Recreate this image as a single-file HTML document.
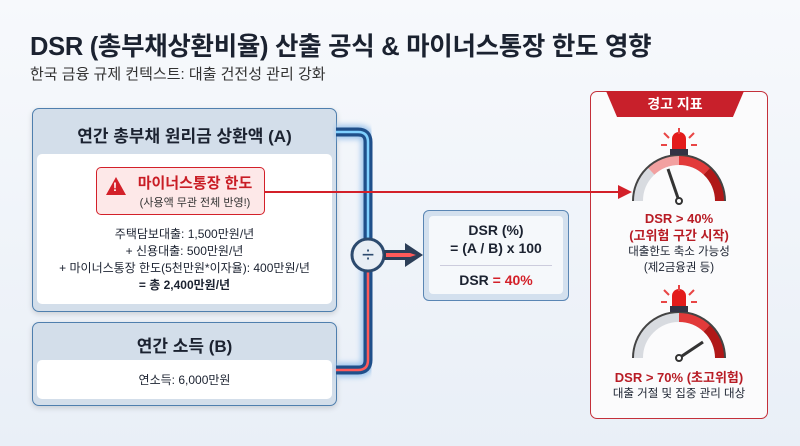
<!DOCTYPE html>
<html><head><meta charset="utf-8"><style>
body{margin:0;width:800px;height:446px;overflow:hidden;background:linear-gradient(180deg,#f7f9fc,#e9eff7);font-family:"Liberation Sans","Noto Sans CJK KR",sans-serif;color:#1b2230;position:relative}
.a{position:absolute}
.c{text-align:center}
</style></head><body>
<div class="a" style="left:30px;top:26px;font-size:25.5px;font-weight:bold;letter-spacing:-0.3px">DSR (총부채상환비율) 산출 공식 &amp; 마이너스통장 한도 영향</div>
<div class="a" style="left:30px;top:63px;font-size:15px;color:#333">한국 금융 규제 컨텍스트: 대출 건전성 관리 강화</div>

<!-- Box A -->
<div class="a" style="left:32px;top:108px;width:303px;height:202px;background:#d3deea;border:1.5px solid #4f7fae;border-radius:7px;box-shadow:0 2px 6px rgba(0,0,0,.15)"></div>
<div class="a c" style="left:32px;top:122px;width:305px;font-size:17px;font-weight:bold">연간 총부채 원리금 상환액 (A)</div>
<div class="a" style="left:37px;top:154px;width:295px;height:150px;background:#fff;border-radius:5px"></div>
<div class="a c" style="left:37px;top:226px;width:295px;font-size:12px;line-height:17px">주택담보대출: 1,500만원/년<br>+ 신용대출: 500만원/년<br>+ 마이너스통장 한도(5천만원*이자율): 400만원/년<br><b>= 총 2,400만원/년</b></div>

<!-- Box B -->
<div class="a" style="left:32px;top:322px;width:303px;height:82px;background:#d3deea;border:1.5px solid #4f7fae;border-radius:7px;box-shadow:0 2px 6px rgba(0,0,0,.15)"></div>
<div class="a c" style="left:32px;top:332px;width:305px;font-size:17px;font-weight:bold">연간 소득 (B)</div>
<div class="a" style="left:37px;top:360px;width:295px;height:39px;background:#fff;border-radius:5px"></div>
<div class="a c" style="left:37px;top:371px;width:295px;font-size:12px">연소득: 6,000만원</div>

<!-- DSR box -->
<div class="a" style="left:423px;top:210px;width:144px;height:89px;background:#d3e0ee;border:1.5px solid #5a86b4;border-radius:6px"></div>
<div class="a" style="left:429px;top:216px;width:134px;height:78px;background:#f5f8fb;border-radius:4px"></div>
<div class="a c" style="left:423px;top:221px;width:146px;font-size:14px;font-weight:bold;line-height:18px">DSR (%)<br>= (A / B) x 100</div>
<div class="a" style="left:440px;top:265px;width:112px;height:1px;background:#ccd"></div>
<div class="a c" style="left:423px;top:272px;width:146px;font-size:14px;font-weight:bold">DSR <span style="color:#d32029">= 40%</span></div>

<!-- warning panel -->
<div class="a" style="left:590px;top:91px;width:176px;height:326px;background:#fbfbfc;border:1.5px solid #c4303a;border-radius:7px"></div>
<div class="a c" style="left:606px;top:91px;width:138px;height:26px;background:#c8202b;clip-path:polygon(0 0,100% 0,92% 100%,8% 100%);color:#fff;font-size:14px;font-weight:bold;line-height:26px">경고 지표</div>
<div class="a c" style="left:590px;top:210px;width:178px;font-size:13px;font-weight:bold;color:#b81c25;line-height:17px">DSR &gt; 40%<br>(고위험 구간 시작)</div>
<div class="a c" style="left:590px;top:244px;width:178px;font-size:11.5px;line-height:16px">대출한도 축소 가능성<br>(제2금융권 등)</div>
<div class="a c" style="left:590px;top:367px;width:178px;font-size:13px;font-weight:bold;color:#b81c25">DSR &gt; 70% (초고위험)</div>
<div class="a c" style="left:590px;top:385px;width:178px;font-size:11.5px">대출 거절 및 집중 관리 대상</div>

<svg class="a" style="left:0;top:0" width="800" height="446">
<defs><filter id="g"><feGaussianBlur stdDeviation="3"/></filter></defs>
<path d="M336 132 H358 Q368 132 368 142 V360 Q368 370 358 370 H336" fill="none" stroke="#9cc4ec" stroke-width="14" filter="url(#g)"/>
<path d="M336 132 H358 Q368 132 368 142 V255" fill="none" stroke="#1f4f8a" stroke-width="9"/>
<path d="M368 255 V360 Q368 370 358 370 H336" fill="none" stroke="#1f4f8a" stroke-width="9"/>
<path d="M336 132 H358 Q368 132 368 142 V255" fill="none" stroke="#7fd0ff" stroke-width="2.5"/>
<path d="M368 255 V360 Q368 370 358 370 H336" fill="none" stroke="#ff5a5a" stroke-width="2.5"/>
<circle cx="368" cy="255" r="16" fill="#e8eef5" stroke="#2c4a6e" stroke-width="3"/>
<text x="368" y="262" font-size="22" text-anchor="middle" fill="#2c4a6e" font-family="Liberation Sans">÷</text>
<path d="M384 250 H405 V243 L423 255 L405 267 V260 H384Z" fill="#2c3e58"/>
<path d="M386 253 H410 L416 255 L410 257 H386Z" fill="#ff5a5a"/>
<line x1="265" y1="192" x2="622" y2="192" stroke="#d32029" stroke-width="2"/>
<path d="M632 192 L618 185 L618 199Z" fill="#d32029"/>
<g transform="translate(679,201)">
<path d="M-41 0 A41 41 0 0 1 41 0" fill="none" stroke="#d8dbe0" stroke-width="10"/>
<path d="M-28 -30 A41 41 0 0 1 0 -41" fill="none" stroke="#f2a0a0" stroke-width="10"/>
<path d="M0 -41 A41 41 0 0 1 28 -30" fill="none" stroke="#e23a3a" stroke-width="10"/>
<path d="M28 -30 A41 41 0 0 1 41 0" fill="none" stroke="#b01818" stroke-width="10"/>
<path d="M-46 0 A46 46 0 0 1 46 0" fill="none" stroke="#444" stroke-width="2"/>
<line x1="0" y1="0" x2="-11" y2="-32" stroke="#333" stroke-width="3"/><circle r="3" fill="#fff" stroke="#333" stroke-width="2"/>
<rect x="-9" y="-52" width="18" height="6" fill="#334"/><path d="M-7 -52 V-62 A7 7 0 0 1 7 -62 V-52Z" fill="#e31b1b"/>
<g stroke="#e84545" stroke-width="2"><line x1="0" y1="-67" x2="0" y2="-73"/><line x1="-10" y1="-63" x2="-15" y2="-68"/><line x1="10" y1="-63" x2="15" y2="-68"/><line x1="-12" y1="-56" x2="-18" y2="-56"/><line x1="12" y1="-56" x2="18" y2="-56"/></g>
</g>
<g transform="translate(679,358)">
<path d="M-41 0 A41 41 0 0 1 41 0" fill="none" stroke="#d8dbe0" stroke-width="10"/>
<path d="M0 -41 A41 41 0 0 1 28 -30" fill="none" stroke="#e23a3a" stroke-width="10"/>
<path d="M28 -30 A41 41 0 0 1 41 0" fill="none" stroke="#b01818" stroke-width="10"/>
<path d="M-46 0 A46 46 0 0 1 46 0" fill="none" stroke="#444" stroke-width="2"/>
<line x1="0" y1="0" x2="24" y2="-16" stroke="#333" stroke-width="3"/><circle r="3" fill="#fff" stroke="#333" stroke-width="2"/>
<rect x="-9" y="-52" width="18" height="6" fill="#334"/><path d="M-7 -52 V-62 A7 7 0 0 1 7 -62 V-52Z" fill="#e31b1b"/>
<g stroke="#e84545" stroke-width="2"><line x1="0" y1="-67" x2="0" y2="-73"/><line x1="-10" y1="-63" x2="-15" y2="-68"/><line x1="10" y1="-63" x2="15" y2="-68"/><line x1="-12" y1="-56" x2="-18" y2="-56"/><line x1="12" y1="-56" x2="18" y2="-56"/></g>
</g>
</svg>

<!-- warning box on top of line -->
<div class="a" style="left:96px;top:167px;width:167px;height:46px;background:#fde8e8;border:1.5px solid #d32029;border-radius:5px"></div>
<div class="a" style="left:106px;top:177px;width:0;height:0;border-left:10px solid transparent;border-right:10px solid transparent;border-bottom:18px solid #d32029"></div>
<div class="a" style="left:113px;top:180px;color:#fff;font-size:12px;font-weight:bold">!</div>
<div class="a c" style="left:130px;top:172px;width:130px;font-size:15px;font-weight:bold;color:#c91d25">마이너스통장 한도</div>
<div class="a c" style="left:130px;top:194px;width:130px;font-size:11px;color:#333">(사용액 무관 전체 반영!)</div>
</body></html>
